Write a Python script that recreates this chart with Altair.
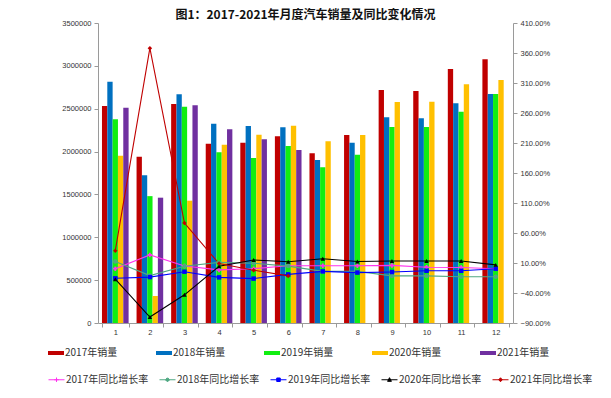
import altair as alt
import pandas as pd

months = [1, 2, 3, 4, 5, 6, 7, 8, 9, 10, 11, 12]

sales_names = ["2017年销量", "2018年销量", "2019年销量", "2020年销量", "2021年销量"]
sales_2017 = [2532000, 1940000, 2555000, 2092000, 2104000, 2178000, 1980000, 2193000, 2718000, 2707000, 2963000, 3076000]
sales_2018 = [2815000, 1723000, 2668000, 2325000, 2298000, 2283000, 1902000, 2104000, 2400000, 2388000, 2563000, 2672000]
sales_2019 = [2376000, 1480000, 2524000, 1991000, 1925000, 2065000, 1816000, 1964000, 2287000, 2287000, 2465000, 2672000]
sales_2020 = [1952000, 315000, 1427000, 2080000, 2197000, 2302000, 2120000, 2193000, 2578000, 2582000, 2785000, 2835000]
sales_2021 = [2512000, 1462000, 2540000, 2260000, 2143000, 2018000]

rate_names = ["2017年同比增长率", "2018年同比增长率", "2019年同比增长率", "2020年同比增长率", "2021年同比增长率"]
rate_2017 = [0.5, 23.5, 5.0, -1.5, 0.5, 5.5, 5.5, 5.5, 6.0, 3.0, 2.5, 0.5]
rate_2018 = [12.5, -11.0, 4.7, 11.0, 9.6, 4.8, -4.0, -4.0, -11.5, -11.5, -13.0, -13.0]
rate_2019 = [-15.5, -13.5, -4.5, -14.0, -16.0, -9.0, -4.0, -6.0, -5.0, -3.0, -3.0, 0.5]
rate_2020 = [-17.0, -80.0, -43.0, 4.6, 15.0, 12.0, 17.0, 12.5, 13.3, 13.3, 13.3, 6.8]
rate_2021 = [30.5, 368.0, 76.5, 9.0, -2.0, -11.5]

bar_colors = ["#C00000", "#0070C0", "#11EE11", "#FFC000", "#7030A0"]
line_colors = ["#FF33EE", "#4FA882", "#0000FF", "#000000", "#C00000"]
point_shapes = ["cross", "circle", "square", "triangle-up", "diamond"]

sales_rows = []
for name, vals in zip(sales_names, [sales_2017, sales_2018, sales_2019, sales_2020, sales_2021]):
    for m, v in zip(months, vals):
        sales_rows.append({"month": m, "series": name, "value": v})
sales_df = pd.DataFrame(sales_rows)

rate_rows = []
for name, vals in zip(rate_names, [rate_2017, rate_2018, rate_2019, rate_2020, rate_2021]):
    for m, v in zip(months, vals):
        rate_rows.append({"month": m, "series": name, "rate": v})
rate_df = pd.DataFrame(rate_rows)

legend_paths = [
    "M-1,0H1M0,-0.28V0.28M-0.28,0H0.28",
    "M-1,0H1M-0.2,-0.08L-0.08,-0.2L0.08,-0.2L0.2,-0.08L0.2,0.08L0.08,0.2L-0.08,0.2L-0.2,0.08Z",
    "M-1,0H1M-0.22,-0.22H0.22V0.22H-0.22Z",
    "M-1,0H1M0,-0.26L0.24,0.2L-0.24,0.2Z",
    "M-1,0H1M0,-0.25L0.22,0L0,0.25L-0.22,0Z",
]


def arr(items):
    return "[" + ",".join("'" + s + "'" for s in items) + "]"


idx = "indexof(" + arr(rate_names) + ", datum.value)"
shape_expr = arr(legend_paths) + "[" + idx + "]"
color_expr = arr(line_colors) + "[" + idx + "]"

axis_font = "Liberation Sans"
label_font = "Noto Sans CJK SC"

x_enc = alt.X(
    "month:O",
    sort=months,
    title=None,
    scale=alt.Scale(paddingInner=0.23, paddingOuter=0.115),
    axis=alt.Axis(
        labelAngle=0,
        tickBand="extent",
        labelFont=axis_font,
        labelFontSize=7.5,
        labelColor="#333333",
        domainColor="#9a9a9a",
        tickColor="#9a9a9a",
        tickSize=4,
        labelPadding=1,
        grid=False,
    ),
)

bars = alt.Chart(sales_df).mark_bar().encode(
    x=x_enc,
    xOffset=alt.XOffset("series:N", sort=sales_names, scale=alt.Scale(paddingInner=0, paddingOuter=0)),
    y=alt.Y(
        "value:Q",
        scale=alt.Scale(domain=[0, 3500000], nice=False),
        axis=alt.Axis(
            orient="left",
            values=list(range(0, 3500001, 500000)),
            format="d",
            title=None,
            grid=False,
            labelFont=axis_font,
            labelFontSize=7.5,
            labelColor="#333333",
            domainColor="#9a9a9a",
            tickColor="#9a9a9a",
            tickSize=4,
            labelPadding=3,
        ),
    ),
    color=alt.Color(
        "series:N",
        sort=sales_names,
        scale=alt.Scale(domain=sales_names, range=bar_colors),
        legend=alt.Legend(
            title=None,
            orient="none",
            legendX=-50,
            legendY=322,
            direction="horizontal",
            columns=5,
            columnPadding=38,
            symbolType="M-1,-0.25H1V0.25H-1Z",
            symbolSize=256,
            symbolStrokeWidth=0,
            labelFont=label_font,
            labelFontSize=10,
            labelColor="#333333",
            labelOffset=1,
            labelLimit=200,
        ),
    ),
)

rate_y = alt.Y(
    "rate:Q",
    scale=alt.Scale(domain=[-90, 410], nice=False, zero=False),
    axis=alt.Axis(
        orient="right",
        values=list(range(-90, 411, 50)),
        labelExpr="format(datum.value, '.2f') + '%'",
        title=None,
        grid=False,
        labelFont=axis_font,
        labelFontSize=7.5,
        labelColor="#333333",
        domainColor="#9a9a9a",
        tickColor="#9a9a9a",
        tickSize=4,
        labelPadding=3,
    ),
)

lines = alt.Chart(rate_df).mark_line(strokeWidth=1.1).encode(
    x=x_enc,
    y=rate_y,
    color=alt.Color(
        "series:N",
        sort=rate_names,
        scale=alt.Scale(domain=rate_names, range=line_colors),
        legend=alt.Legend(
            title=None,
            orient="none",
            legendX=-50,
            legendY=348,
            direction="horizontal",
            columns=5,
            columnPadding=8,
            symbolSize=256,
            symbolType={"expr": shape_expr},
            symbolFillColor={"expr": color_expr},
            symbolStrokeColor={"expr": color_expr},
            symbolStrokeWidth=1,
            symbolOpacity=1,
            labelFont=label_font,
            labelFontSize=10,
            labelColor="#333333",
            labelOffset=1,
            labelLimit=200,
        ),
    ),
    detail="series:N",
)

points = alt.Chart(rate_df).mark_point(filled=True, size=20, opacity=1).encode(
    x=x_enc,
    y=alt.Y("rate:Q", scale=alt.Scale(domain=[-90, 410], nice=False, zero=False), axis=None),
    color=alt.Color(
        "series:N",
        scale=alt.Scale(domain=rate_names, range=line_colors),
        legend=None,
    ),
    shape=alt.Shape(
        "series:N",
        scale=alt.Scale(domain=rate_names, range=point_shapes),
        legend=None,
    ),
)

chart = (
    alt.layer(bars, lines, points)
    .resolve_scale(y="independent", color="independent", shape="independent")
    .properties(
        width=415,
        height=300,
        autosize=alt.AutoSizeParams(type="none"),
        padding={"left": 90, "top": 15, "right": 90, "bottom": 67},
        title=alt.TitleParams(
            "图1：2017-2021年月度汽车销量及同比变化情况",
            font=label_font,
            fontSize=12,
            fontWeight="bold",
            color="#111111",
            anchor="middle",
            baseline="middle",
            offset=0,
            dy=8,
        ),
        background="white",
    )
    .configure_view(stroke=None)
    .configure_axis(grid=False)
)

chart.save("out.html", embed_options={"renderer": "svg", "actions": False})
